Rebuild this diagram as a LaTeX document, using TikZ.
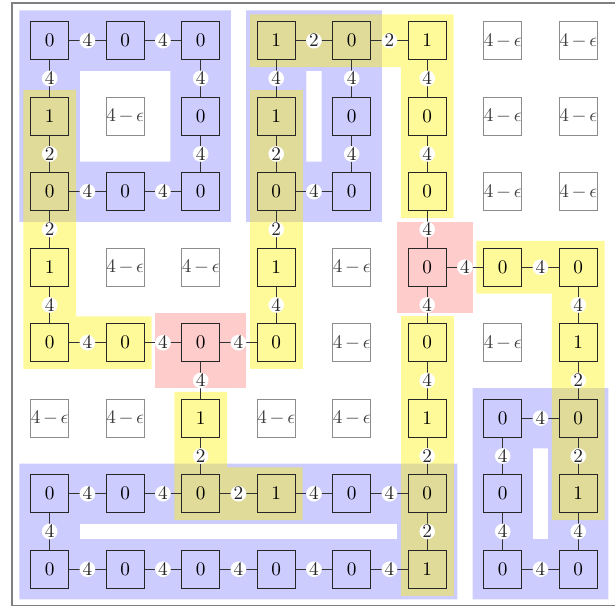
\documentclass[tikz,border=0pt]{standalone}
\begin{document}
\begin{tikzpicture}[x=1.38cm, y=-1.38cm,
  cell/.style={draw=black!85, line width=0.5pt, minimum size=0.69cm, inner sep=0pt},
  epscell/.style={cell, draw=gray!90, text=black!75},
  lbl/.style={circle, fill=white, inner sep=0pt, text=black!85},
  edge/.style={draw=black!80, line width=0.5pt},
  bluereg/.style={fill=blue!20, even odd rule},
  yelreg/.style={fill=yellow, fill opacity=0.4},
  redreg/.style={fill=red!20}]
\useasboundingbox (-0.658,-0.539) rectangle (7.487,7.50);
% frame (right side lies outside the visible area)
\coordinate (ftr) at (7.9,-0.5);
\coordinate (ftl) at (-0.5,-0.5);
\coordinate (fbl) at (-0.5,7.48);
\coordinate (fbr) at (7.9,7.48);
\draw[gray, line width=0.8pt] (ftr) -- (ftl) -- (fbl) -- (fbr);
% blue regions
\path[bluereg] (-0.4,-0.4) rectangle (2.4,2.4) (0.4,0.4) rectangle (1.6,1.6);
\path[bluereg] (2.6,-0.4) rectangle (4.4,2.4) (3.4,0.4) rectangle (3.6,1.6);
\path[bluereg] (-0.4,5.6) rectangle (5.4,7.4) (0.4,6.4) rectangle (4.6,6.6);
\path[bluereg] (5.6,4.6) rectangle (7.4,7.4) (6.4,5.4) rectangle (6.6,6.6);
% yellow regions
\path[yelreg] (2.65,-0.35) -- (5.35,-0.35) -- (5.35,2.35) -- (4.65,2.35) -- (4.65,0.35) -- (2.65,0.35) -- cycle;
\path[yelreg] (2.65,0.65) rectangle (3.35,4.35);
\path[yelreg] (-0.35,0.65) -- (0.35,0.65) -- (0.35,3.65) -- (1.35,3.65) -- (1.35,4.35) -- (-0.35,4.35) -- cycle;
\path[yelreg] (5.65,2.65) -- (7.35,2.65) -- (7.35,6.35) -- (6.65,6.35) -- (6.65,3.35) -- (5.65,3.35) -- cycle;
\path[yelreg] (4.65,3.65) rectangle (5.35,7.35);
\path[yelreg] (1.65,4.65) -- (2.35,4.65) -- (2.35,5.65) -- (3.35,5.65) -- (3.35,6.35) -- (1.65,6.35) -- cycle;
% red regions
\path[redreg] (1.4,3.6) rectangle (2.6,4.6);
\path[redreg] (4.6,2.4) rectangle (5.6,3.6);
% nodes
\foreach \rowvals [count=\r from 0] in {
  {0,0,0,1,0,1,e,e},
  {1,e,0,1,0,0,e,e},
  {0,0,0,0,0,0,e,e},
  {1,e,e,1,e,0,0,0},
  {0,0,0,0,e,0,e,1},
  {e,e,1,e,e,1,0,0},
  {0,0,0,1,0,0,0,1},
  {0,0,0,0,0,1,0,0}} {
  \foreach \v [count=\c from 0] in \rowvals {
    \if e\v
      \node[epscell] (n\c-\r) at (\c,\r) {\medmuskip=2.5mu $4-\epsilon$};
    \else
      \node[cell] (n\c-\r) at (\c,\r) {$\v$};
    \fi
  }
}
% horizontal edges
\foreach \c/\r/\w in {0/0/4,1/0/4,3/0/2,4/0/2,
  0/2/4,1/2/4,3/2/4,
  5/3/4,6/3/4,
  0/4/4,1/4/4,2/4/4,
  6/5/4,
  0/6/4,1/6/4,2/6/2,3/6/4,4/6/4,
  0/7/4,1/7/4,2/7/4,3/7/4,4/7/4,6/7/4} {
  \pgfmathtruncatemacro{\cn}{\c+1}
  \draw[edge] (n\c-\r) -- node[lbl] {$\w$} (n\cn-\r);
}
% vertical edges
\foreach \c/\r/\w in {0/0/4,2/0/4,3/0/4,4/0/4,5/0/4,
  0/1/2,2/1/4,3/1/2,4/1/4,5/1/4,
  0/2/2,3/2/2,5/2/4,
  0/3/4,3/3/4,5/3/4,7/3/4,
  2/4/4,5/4/4,7/4/2,
  2/5/2,5/5/2,6/5/4,7/5/2,
  0/6/4,5/6/2,6/6/4,7/6/4} {
  \pgfmathtruncatemacro{\rn}{\r+1}
  \draw[edge] (n\c-\r) -- node[lbl] {$\w$} (n\c-\rn);
}
\end{tikzpicture}
\end{document}
